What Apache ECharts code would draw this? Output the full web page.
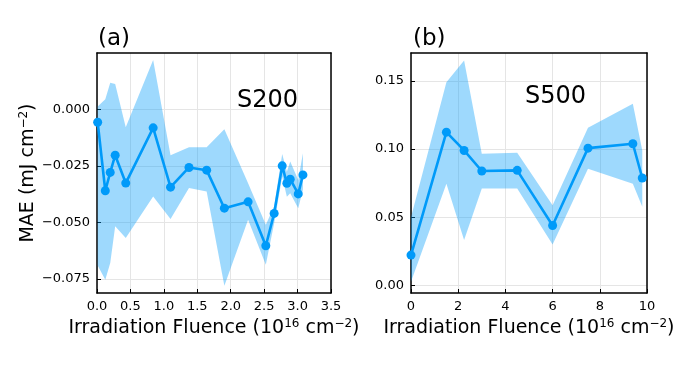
<!DOCTYPE html>
<html>
<head>
<meta charset="utf-8">
<script src="https://cdn.jsdelivr.net/npm/echarts@6/dist/echarts.min.js"></script>
<style>
  html, body { margin: 0; padding: 0; background: #fff; }
  #chart { width: 681px; height: 372px; }
</style>
</head>
<body>
<div id="chart"></div>
<script>
// S200 panel
const s200Fluence = [0.01, 0.124, 0.198, 0.272, 0.43, 0.84, 1.10, 1.376, 1.64, 1.905, 2.26, 2.525, 2.65, 2.77, 2.84, 2.89, 3.01, 3.08]
const s200Mae = [-0.0057, -0.036, -0.0279, -0.0203, -0.0326, -0.0082, -0.0344, -0.0257, -0.0269, -0.0437, -0.0409, -0.0603, -0.046, -0.025, -0.0327, -0.0309, -0.0374, -0.029]
const s200Upper = [0.0012, 0.0044, 0.0118, 0.0112, -0.0079, 0.0218, -0.0203, -0.0168, -0.0168, -0.0088, -0.0327, -0.051, -0.0429, -0.0197, -0.0276, -0.0231, -0.0312, -0.0194]
const s200Lower = [-0.069, -0.0753, -0.0679, -0.0517, -0.0569, -0.0385, -0.0485, -0.0348, -0.0363, -0.078, -0.0488, -0.0687, -0.0503, -0.0298, -0.0386, -0.0371, -0.0437, -0.0356]
const s200YTicks = [-0.075, -0.05, -0.025, 0]

// S500 panel
const s500Fluence = [0, 1.5, 2.25, 3, 4.5, 6, 7.5, 9.4, 9.8]
const s500Mae = [0.0222, 0.1124, 0.099, 0.0839, 0.0844, 0.0439, 0.1007, 0.1039, 0.0788]
const s500Upper = [0.05, 0.149, 0.165, 0.0966, 0.0973, 0.0588, 0.1156, 0.1332, 0.099]
const s500Lower = [0.0027, 0.0746, 0.0332, 0.071, 0.071, 0.030, 0.0856, 0.0746, 0.0576]
const s500YTicks = [0, 0.05, 0.1, 0.15]

const lineColor = '#009af9'
const bandColor = 'rgba(0,154,249,0.38)'
const font = 'DejaVu Sans'

const minus = s => s.replace('-', '\u2212')

const nameStyle = {
    fontFamily: font, fontSize: 19, color: '#000',
    rich: { sup: { fontFamily: font, fontSize: 12, verticalAlign: 'top', padding: [0, 0, 9, 0] } }
}
const frameLine = { show: true, onZero: false, lineStyle: { color: '#000', width: 1.5 } }

function bandSeries(idx, fl, up, lo) {
    return {
        type: 'custom',
        xAxisIndex: idx,
        yAxisIndex: idx,
        data: [[fl[0], up[0]]],
        clip: true,
        z: 1,
        silent: true,
        renderItem: (params, api) => {
            const top = up.map((v, i) => api.coord([fl[i], v]))
            const bottom = lo.map((v, i) => api.coord([fl[i], v])).reverse()
            return {
                type: 'polygon',
                shape: { points: top.concat(bottom) },
                style: { fill: bandColor }
            }
        }
    }
}

function lineSeries(idx, fl, mae) {
    return {
        type: 'line',
        xAxisIndex: idx,
        yAxisIndex: idx,
        data: fl.map((x, i) => [x, mae[i]]),
        symbol: 'circle',
        symbolSize: 9,
        lineStyle: { color: lineColor, width: 2.6 },
        itemStyle: { color: lineColor },
        z: 3,
        silent: true
    }
}

function xAxis(idx, max, interval, digits) {
    return {
        type: 'value',
        gridIndex: idx,
        min: 0,
        max: max,
        interval: interval,
        name: 'Irradiation Fluence (10{sup|16} cm{sup|\u22122})',
        nameLocation: 'middle',
        nameGap: 24,
        nameTextStyle: nameStyle,
        axisLine: frameLine,
        axisTick: { show: true, inside: true, length: 4, lineStyle: { color: '#000' } },
        axisLabel: { fontFamily: font, fontSize: 13, color: '#000', margin: 7, formatter: v => minus(v.toFixed(digits)) },
        splitLine: { show: true, lineStyle: { color: '#e5e5e5', width: 1 } }
    }
}

function yAxis(idx, min, max, ticks, digits, name) {
    return {
        type: 'value',
        gridIndex: idx,
        min: min,
        max: max,
        name: name,
        nameLocation: 'middle',
        nameGap: 55,
        nameTextStyle: nameStyle,
        axisLine: frameLine,
        axisTick: { show: true, inside: true, length: 4, customValues: ticks, lineStyle: { color: '#000' } },
        axisLabel: { fontFamily: font, fontSize: 13, color: '#000', margin: 7, customValues: ticks, formatter: v => minus(v.toFixed(digits)) },
        splitLine: { show: true, customValues: ticks, lineStyle: { color: '#e5e5e5', width: 1 } }
    }
}

// top / right edges of the box frame
function mirrorAxis(idx, position, min, max) {
    return {
        type: 'value',
        gridIndex: idx,
        position: position,
        min: min,
        max: max,
        axisLine: frameLine,
        axisTick: { show: false },
        axisLabel: { show: false },
        splitLine: { show: false }
    }
}

const chart = echarts.init(document.getElementById('chart'))
chart.setOption({
    animation: false,
    backgroundColor: '#fff',
    title: [
        { text: '(a)', left: 93, top: 23, textStyle: { fontFamily: font, fontSize: 23, fontWeight: 'normal', color: '#000' } },
        { text: '(b)', left: 408, top: 23, textStyle: { fontFamily: font, fontSize: 23, fontWeight: 'normal', color: '#000' } },
        { text: 'S200', left: 232, top: 84, textStyle: { fontFamily: font, fontSize: 24, fontWeight: 'normal', color: '#000' } },
        { text: 'S500', left: 520, top: 80, textStyle: { fontFamily: font, fontSize: 24, fontWeight: 'normal', color: '#000' } }
    ],
    grid: [
        { left: 97, top: 53, width: 234, height: 240 },
        { left: 411, top: 53, width: 236, height: 240 }
    ],
    xAxis: [
        xAxis(0, 3.5, 0.5, 1),
        xAxis(1, 10, 2, 0),
        mirrorAxis(0, 'top', 0, 3.5),
        mirrorAxis(1, 'top', 0, 10)
    ],
    yAxis: [
        yAxis(0, -0.0812, 0.0249, s200YTicks, 3, 'MAE (mJ cm{sup|\u22122})'),
        yAxis(1, -0.0056, 0.1705, s500YTicks, 2, ''),
        mirrorAxis(0, 'right', -0.0812, 0.0249),
        mirrorAxis(1, 'right', -0.0056, 0.1705)
    ],
    series: [
        bandSeries(0, s200Fluence, s200Upper, s200Lower),
        lineSeries(0, s200Fluence, s200Mae),
        bandSeries(1, s500Fluence, s500Upper, s500Lower),
        lineSeries(1, s500Fluence, s500Mae)
    ]
})
</script>
</body>
</html>
